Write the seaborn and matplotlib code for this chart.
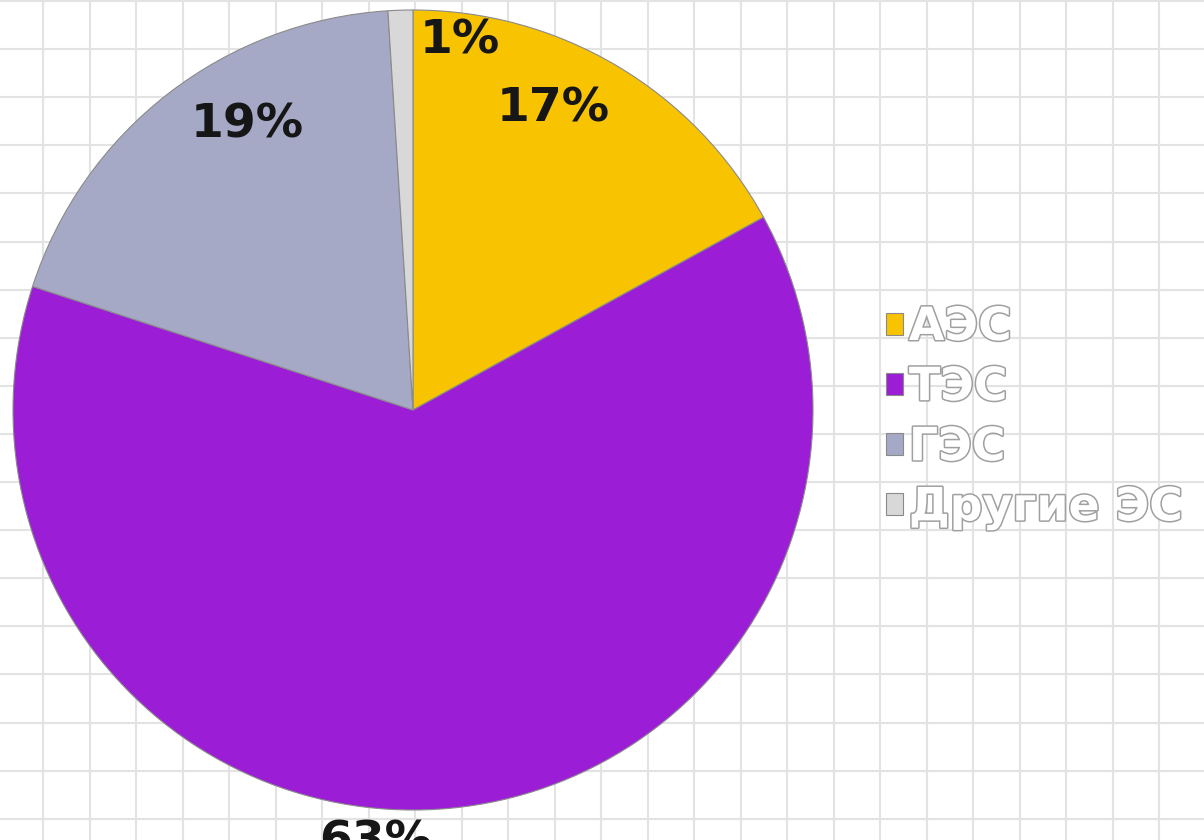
import numpy as np
import matplotlib
matplotlib.use("Agg")
import matplotlib.pyplot as plt
import matplotlib.patheffects as pe
import seaborn as sns

# ---- data ----
categories = ["АЭС", "ТЭС", "ГЭС", "Другие ЭС"]
shares = [17, 63, 19, 1]
pct_labels = ["17%", "63%", "19%", "1%"]
slice_colors = ["#F8C300", "#9B1DD6", "#A6A9C6", "#D8D8D8"]

# ---- layout (label placement: angle in degrees, radius fraction) ----
label_angles = [65.1, 265.0, 120.2, 82.7]
label_radii = [0.83, 1.085, 0.825, 0.93]

sns.set_theme(style="whitegrid")
plt.rcParams["font.family"] = ["DejaVu Sans"]

W, H = 1204, 840
fig = plt.figure(figsize=(W / 100, H / 100), dpi=100)
fig.patch.set_facecolor("white")
ax = fig.add_axes([0, 0, 1, 1])
ax.set_facecolor("white")

cx, cy, R = 413, H - 410, 400
palette = sns.color_palette(slice_colors)

wedges, _ = ax.pie(shares, colors=palette, startangle=90, counterclock=False,
                   center=(cx, cy), radius=R, frame=True,
                   wedgeprops=dict(edgecolor="#8a8a8a", linewidth=0.8))

for txt, ang, rf in zip(pct_labels, label_angles, label_radii):
    a = np.deg2rad(ang)
    ax.text(cx + rf * R * np.cos(a), cy + rf * R * np.sin(a), txt,
            ha="center", va="center", fontsize=34, fontweight="bold",
            color="#161616", clip_on=False)

ax.set_xlim(0, W)
ax.set_ylim(0, H)
ax.set_aspect("equal")
ax.set_xticks(np.arange(43, W, 46.5))
ax.set_yticks(H - np.arange(1, H, 48.1))
ax.tick_params(length=0, labelbottom=False, labelleft=False)
ax.grid(True, color="#e3e3e3", linewidth=1.5)
ax.set_axisbelow(True)
for s in ax.spines.values():
    s.set_visible(False)

leg = ax.legend(wedges, categories, loc="upper left",
                bbox_to_anchor=(886, H - 305), bbox_transform=ax.transData,
                frameon=False, prop=dict(size=33, weight="bold"),
                handlelength=0.36, handleheight=0.36,
                handletextpad=0.14, labelspacing=0.33, borderpad=0, borderaxespad=0)
for t in leg.get_texts():
    t.set_color("white")
    t.set_path_effects([pe.withStroke(linewidth=2.2, foreground="#a0a0a0")])

fig.savefig("out.png", dpi=100, facecolor="white")
